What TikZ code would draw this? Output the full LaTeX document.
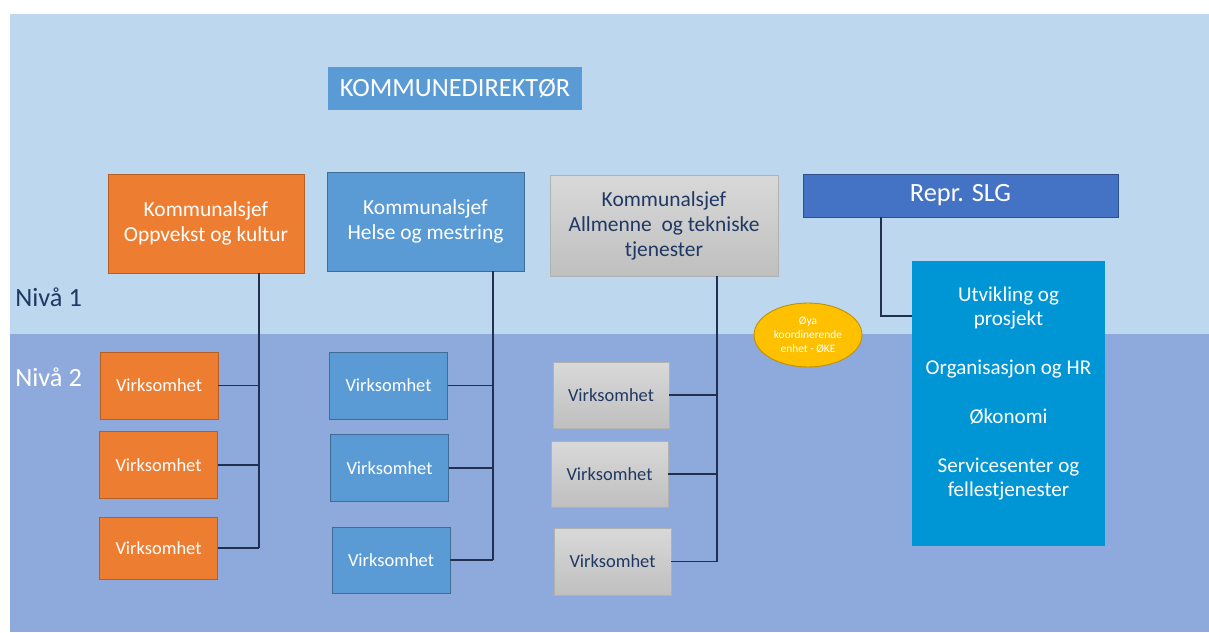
\documentclass[tikz,border=0pt]{standalone}
\usepackage{fontspec}
\setmainfont{Carlito}
\usepackage{tikz}
\usetikzlibrary{calc}
\usetikzlibrary{shapes.geometric}

\definecolor{bglight}{HTML}{BDD7EE}
\definecolor{bgdark}{HTML}{8EA9DB}
\definecolor{sjeforange}{HTML}{ED7D31}
\definecolor{sjefblue}{HTML}{5B9BD5}
\definecolor{slgblue}{HTML}{4472C4}
\definecolor{stabblue}{HTML}{0096D6}
\definecolor{okeyellow}{HTML}{FFC000}
\definecolor{navy}{HTML}{1F3864}
\definecolor{linecol}{HTML}{22304F}

\begin{document}
\begin{tikzpicture}[x=0.02cm,y=-0.02cm,
  sjef box/.style={rectangle,inner sep=0pt,align=center,minimum width=3.92cm,minimum height=1.98cm,font=\fontsize{12.2}{14.2}\selectfont},
  unit box/.style={rectangle,inner sep=0pt,minimum width=2.36cm,minimum height=1.34cm,font=\fontsize{10.5}{12}\selectfont},
  orange fill/.style={fill=sjeforange,draw=sjeforange!75!black,line width=0.5pt,text=white},
  blue fill/.style={fill=sjefblue,draw=sjefblue!70!black,line width=0.5pt,text=white},
  grey fill/.style={top color=black!15,bottom color=black!25,draw=black!30,line width=0.5pt,text=navy},
  org line/.style={draw=linecol,line width=0.8pt}]
\useasboundingbox (0,0) rectangle (1209,632);
\fill[white] (0,0) rectangle (1209,632);
\fill[bglight] (10,14) rectangle (1209,334); % niva 1
\fill[bgdark] (10,334) rectangle (1209,632); % niva 2

\node (niva1) at (15,297)[anchor=west,inner sep=0pt,text=navy,font=\fontsize{15}{17}\selectfont] {Nivå 1};
\node (niva2) at (15,377)[anchor=west,inner sep=0pt,text=white,font=\fontsize{15}{17}\selectfont] {Nivå 2};

\node (kd) at (455,88.5)[rectangle,fill=sjefblue,text=white,minimum width=5.08cm,minimum height=0.86cm,font=\fontsize{15}{17}\selectfont] {KOMMUNEDIREKTØR};

% kommunalsjefer
\node (ok) at (206,223.5)[sjef box,orange fill] {Kommunalsjef\\Oppvekst og kultur};
\node (hm) at (425.5,221.5)[sjef box,blue fill,minimum width=3.94cm] {Kommunalsjef\\Helse og mestring};
\node (at) at (664,225.5)[sjef box,grey fill,minimum width=4.56cm,minimum height=2.02cm] {Kommunalsjef\\Allmenne\ \ og tekniske\\tjenester};
\node (slg) at (960.5,195.5)[rectangle,fill=slgblue,draw=slgblue!70!black,line width=0.5pt,text=white,minimum width=6.3cm,minimum height=0.86cm,font=\fontsize{15}{17}\selectfont] {Repr. SLG};

% stab
\node (stab) at (1008.5,403.5)[rectangle,fill=stabblue,minimum width=3.86cm,minimum height=5.7cm] {};
\node (stabtxt) at ($(stab.center)+(0,-10)$)[align=center,text=white,font=\fontsize{12}{13.6}\selectfont] {Utvikling og\\prosjekt\\[0.5cm]Organisasjon og HR\\[0.5cm]Økonomi\\[0.5cm]Servicesenter og\\fellestjenester};

\node (oke) at (808,335)[ellipse,fill=okeyellow,draw=okeyellow!75!black,line width=0.5pt,inner sep=0pt,minimum width=2.16cm,minimum height=1.28cm,align=center,text=white,font=\fontsize{6.5}{7.9}\selectfont] {Øya\\koordinerende\\enhet - ØKE};

% virksomheter
\node (v1) at (159,385.5)[unit box,orange fill] {Virksomhet};
\node (v2) at (158.5,465)[unit box,orange fill] {Virksomhet};
\node (v3) at (158.5,548)[unit box,orange fill,minimum height=1.24cm] {Virksomhet};
\node (b1) at (388.5,385.5)[unit box,blue fill] {Virksomhet};
\node (b2) at (389.5,468)[unit box,blue fill] {Virksomhet};
\node (b3) at (391,560)[unit box,blue fill,minimum height=1.32cm] {Virksomhet};
\node (g1) at (611,395)[unit box,grey fill,minimum width=2.32cm,minimum height=1.32cm] {Virksomhet};
\node (g2) at (609.5,474)[unit box,grey fill,minimum width=2.34cm,minimum height=1.32cm] {Virksomhet};
\node (g3) at (612.5,561.5)[unit box,grey fill,minimum width=2.34cm] {Virksomhet};

% linjer
\coordinate (obus) at (259,548);
\coordinate (bbus) at (493,560);
\coordinate (gbus) at (717,561.5);
\draw[org line] (ok.south -| obus) -- (obus);
\draw[org line] (hm.south -| bbus) -- (bbus);
\draw[org line] (at.south -| gbus) -- (gbus);
\foreach \n in {v1,v2,v3} \draw[org line] (\n.east) -- (\n.east -| obus);
\foreach \n in {b1,b2,b3} \draw[org line] (\n.east) -- (\n.east -| bbus);
\foreach \n in {g1,g2,g3} \draw[org line] (\n.east) -- (\n.east -| gbus);
\coordinate (slgknee) at (881,316);
\draw[org line] (slg.south -| slgknee) -- (slgknee) -- (slgknee -| stab.west);
\end{tikzpicture}
\end{document}
